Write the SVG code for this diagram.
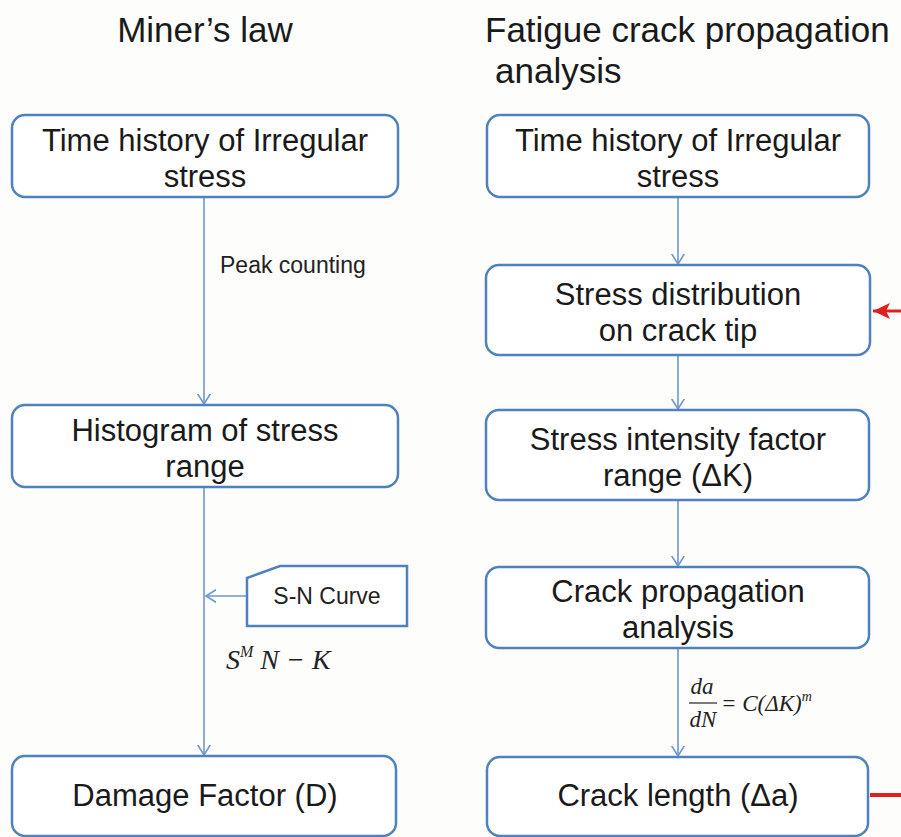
<svg xmlns="http://www.w3.org/2000/svg" width="901" height="837" viewBox="0 0 901 837">
<style>
.box{fill:#ffffff;stroke:#4f81bd;stroke-width:2.5}
.t{font-family:"Liberation Sans",Arial,sans-serif;font-size:31px;fill:#1a1a1a;text-anchor:middle}
.h{font-family:"Liberation Sans",Arial,sans-serif;font-size:35px;fill:#1a1a1a}
.s{font-family:"Liberation Sans",Arial,sans-serif;font-size:23px;fill:#222}
.m{font-family:"Liberation Serif","Times New Roman",serif;font-style:italic;fill:#222}
.c{stroke:#6d97cf;stroke-width:1.6;fill:none}
.r{stroke:#e02020;fill:none}
</style>
<defs>
<marker id="ah" markerUnits="userSpaceOnUse" markerWidth="20" markerHeight="20" viewBox="-10 -10 20 20" refX="0" refY="0" orient="auto">
<path d="M-12,-7.5 L0,0 L-12,7.5" fill="none" stroke="#6d97cf" stroke-width="1.6"/>
</marker>
<marker id="rh" markerUnits="userSpaceOnUse" markerWidth="24" markerHeight="24" viewBox="-20 -12 24 24" refX="0" refY="0" orient="auto">
<path d="M0,0 L-17,-8 L-13,0 L-17,8 Z" fill="#e02020"/>
</marker>
</defs>
<rect width="901" height="837" fill="#fdfdfc"/>
<text class="h" x="205" y="42" text-anchor="middle">Miner’s law</text>
<text class="h" x="485" y="42">Fatigue crack propagation</text>
<text class="h" x="495" y="83">analysis</text>
<g id="connectors">
<line class="c" x1="204" y1="197" x2="204" y2="404" marker-end="url(#ah)"/>
<line class="c" x1="204" y1="487" x2="204" y2="755" marker-end="url(#ah)"/>
<line class="c" x1="247" y1="596" x2="206" y2="596" marker-end="url(#ah)"/>
<line class="c" x1="678" y1="197" x2="678" y2="264" marker-end="url(#ah)"/>
<line class="c" x1="678" y1="355" x2="678" y2="409" marker-end="url(#ah)"/>
<line class="c" x1="678" y1="500" x2="678" y2="566" marker-end="url(#ah)"/>
<line class="c" x1="678" y1="648" x2="678" y2="756" marker-end="url(#ah)"/>
<path class="r" stroke-width="4" d="M870,795 H903.4 V311"/>
<line class="r" stroke-width="3" x1="903" y1="311" x2="873" y2="311" marker-end="url(#rh)"/>
</g>
<text class="s" x="220" y="273">Peak counting</text>
<text class="m" x="226" y="669" font-size="28">S<tspan font-size="16" dy="-12">M</tspan><tspan dy="12"> N − K</tspan></text>
<g class="m" font-size="23">
<text x="702" y="694" text-anchor="middle">da</text>
<line x1="689" y1="703" x2="717" y2="703" stroke="#222" stroke-width="1.2"/>
<text x="703" y="727" text-anchor="middle">dN</text>
<text x="721" y="711">= C(ΔK)<tspan font-size="14" dy="-10">m</tspan></text>
</g>
<g id="n1"><rect class="box" x="12" y="115" width="386" height="82" rx="13"/>
<text class="t" x="205" y="151">Time history of Irregular</text><text class="t" x="205" y="187">stress</text></g>
<g id="n2"><rect class="box" x="12" y="405" width="386" height="82" rx="13"/>
<text class="t" x="205" y="441">Histogram of stress</text><text class="t" x="205" y="477">range</text></g>
<g id="n3"><path class="box" d="M247,578 L280,566 H407 V626 H247 Z"/>
<text class="s" x="327" y="604" text-anchor="middle">S-N Curve</text></g>
<g id="n4"><rect class="box" x="12" y="756" width="384" height="80" rx="13"/>
<text class="t" x="205" y="806">Damage Factor (D)</text></g>
<g id="n5"><rect class="box" x="487" y="115" width="382" height="82" rx="13"/>
<text class="t" x="678" y="151">Time history of Irregular</text><text class="t" x="678" y="187">stress</text></g>
<g id="n6"><rect class="box" x="486" y="265" width="384" height="90" rx="13"/>
<text class="t" x="678" y="305">Stress distribution</text><text class="t" x="678" y="341">on crack tip</text></g>
<g id="n7"><rect class="box" x="486" y="410" width="383" height="90" rx="13"/>
<text class="t" x="678" y="450">Stress intensity factor</text><text class="t" x="678" y="486">range (ΔK)</text></g>
<g id="n8"><rect class="box" x="486" y="567" width="383" height="81" rx="13"/>
<text class="t" x="678" y="602">Crack propagation</text><text class="t" x="678" y="638">analysis</text></g>
<g id="n9"><rect class="box" x="487" y="757" width="381" height="79" rx="13"/>
<text class="t" x="678" y="806">Crack length (Δa)</text></g>
</svg>
